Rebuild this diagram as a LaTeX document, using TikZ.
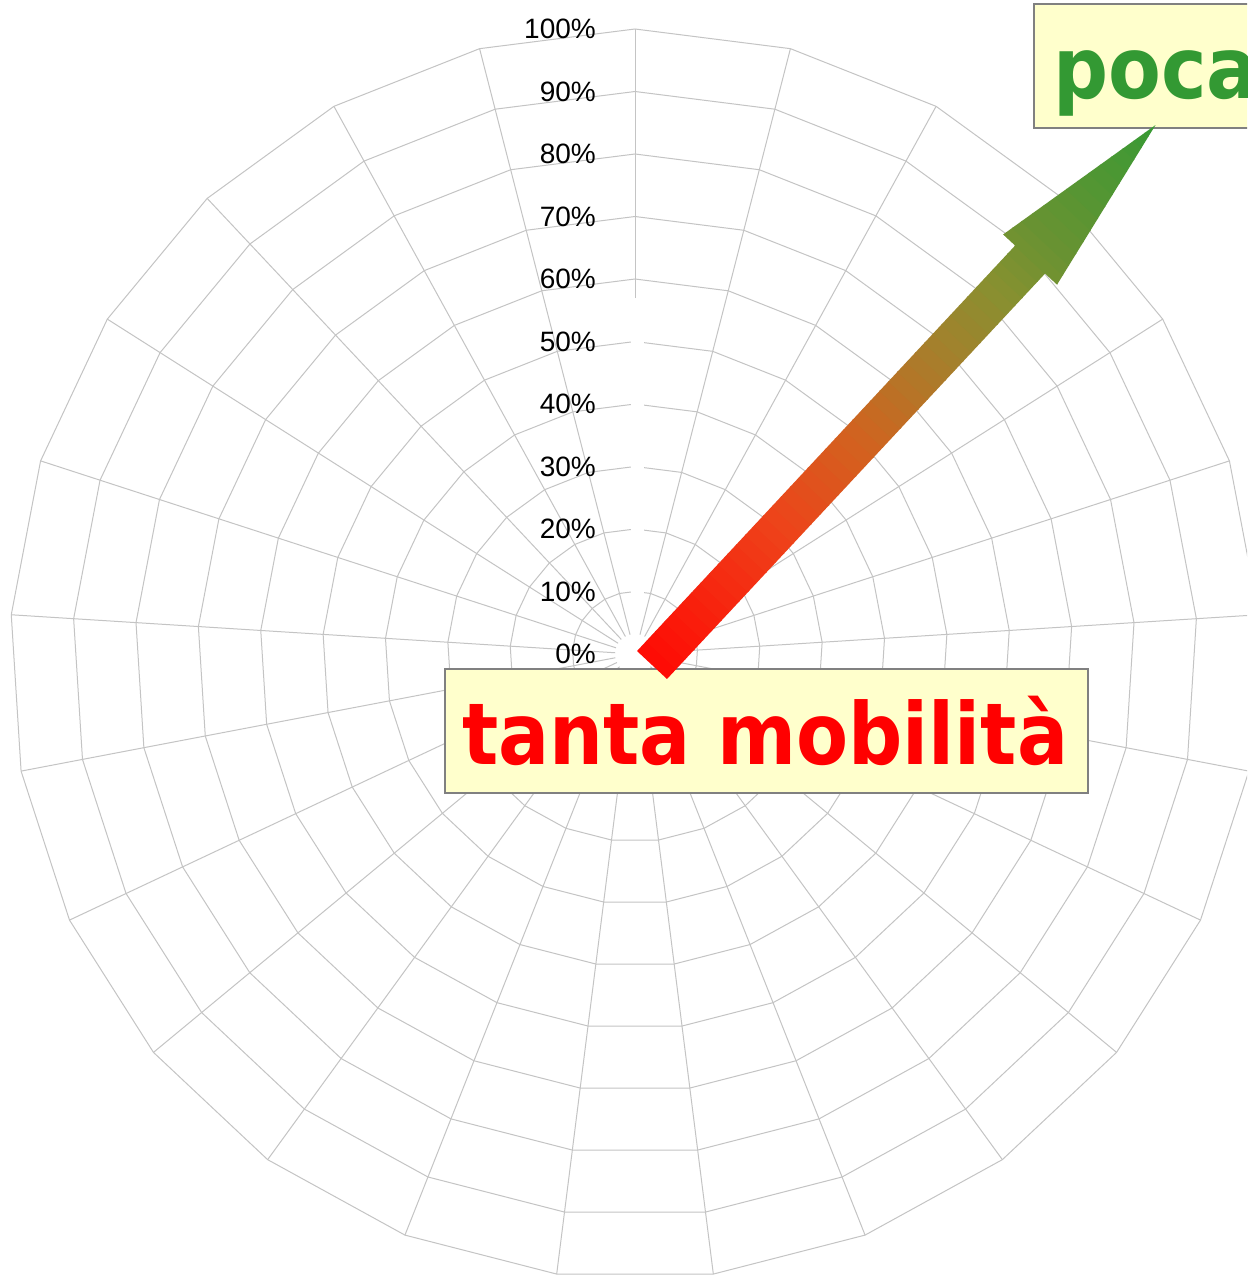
\documentclass[tikz,border=0pt]{standalone}
\usepackage{fontspec}
\usepackage{graphicx}
\newfontfamily\lblfont{Liberation Sans}
\newfontfamily\bigfont{DejaVu Sans}
\definecolor{gridgray}{RGB}{196,196,196}
\definecolor{boxfill}{RGB}{255,255,204}
\definecolor{boxline}{RGB}{128,128,128}
\definecolor{pocagreen}{RGB}{51,153,51}
\definecolor{ga}{RGB}{255,10,4}
\definecolor{gb}{RGB}{238,66,26}
\definecolor{gc}{RGB}{210,98,31}
\definecolor{gd}{RGB}{166,127,44}
\definecolor{ge}{RGB}{136,144,48}
\definecolor{gf}{RGB}{106,146,50}
\definecolor{gg}{RGB}{56,154,52}
\newcommand\gradseg[5]{%
  \foreach \j in {1,...,#5}{%
    \pgfmathsetmacro\sa{#1+(#2-#1)*(\j-1)/#5}%
    \pgfmathsetmacro\sb{#1+(#2-#1)*\j/#5+1}%
    \pgfmathtruncatemacro\pp{100*(\j-0.5)/#5}%
    \fill[#4!\pp!#3] (\sa,-45) rectangle (\sb,45);
  }}
\begin{document}
\begin{tikzpicture}[x=1pt,y=-1pt,
  gridline/.style={draw=gridgray, line width=1pt},
  lbl/.style={inner sep=0pt, font=\lblfont\fontsize{28}{30}\selectfont, text=black},
  labelbox/.style={draw=boxline, fill=boxfill, line width=2pt, inner sep=0pt},
  bigtext/.style={inner sep=0pt, font=\bigfont\bfseries\fontsize{85.5}{90}\selectfont}]
\useasboundingbox (0,0) rectangle (1247,1276);
\clip (0,0) rectangle (1247,1276);
\fill[white] (0,0) rectangle (1247,1276);
% rings
\foreach \k in {1,...,10}{
  \pgfmathsetmacro\r{62.5*\k}
  \draw[gridline] (635,{654-\r}) \foreach \i in {1,...,24}{ -- ({635+\r*sin(14.4*\i)},{654-\r*cos(14.4*\i)}) } -- cycle;
}
% spokes
\foreach \i in {1,...,24}{
  \draw[gridline] ({635+20*sin(14.4*\i)},{654-20*cos(14.4*\i)}) -- ({635+625*sin(14.4*\i)},{654-625*cos(14.4*\i)});
}
\draw[gridline] (635,298) -- (635,29);
% gap along the top spoke
\fill[white] (631,300) rectangle (644,600);
% percentage labels
\foreach \k in {0,...,10}{
  \pgfmathtruncatemacro\pc{10*\k}
  \node[lbl, anchor=east] (lab\k) at (596,{654-62.5*\k}) {\pc\%};
}
% label boxes
\node[labelbox, anchor=north west, minimum width=643pt, minimum height=124pt] (tantabox) at (444,668) {};
\node[bigtext, text=red, anchor=base west] (tantatext) at (462,764) {\scalebox{0.887}[1]{tanta mobilità}};
\node[labelbox, anchor=north west, minimum width=600pt, minimum height=124pt] (pocabox) at (1033,3) {};
\node[bigtext, text=pocagreen, anchor=base west] (pocatext) at (1053,99) {\scalebox{0.9}[1]{poca}};
% gradient arrow
\coordinate (atail) at (652,665);
\coordinate (atip) at (1156.7,126);
\begin{scope}[shift={(atail)}, rotate=47]
  \clip (0,-20.5) -- (554.5,-20.5) -- (554.5,-36.8) -- (738.3,0) -- (554.5,36.8) -- (554.5,20.5) -- (0,20.5) -- cycle;
  \gradseg{0}{184.6}{ga}{gb}{14}
  \gradseg{184.6}{302.8}{gb}{gc}{9}
  \gradseg{302.8}{420.9}{gc}{gd}{9}
  \gradseg{420.9}{509.6}{gd}{ge}{7}
  \gradseg{509.6}{576}{ge}{gf}{6}
  \gradseg{576}{738.5}{gf}{gg}{12}
\end{scope}
\end{tikzpicture}
\end{document}
